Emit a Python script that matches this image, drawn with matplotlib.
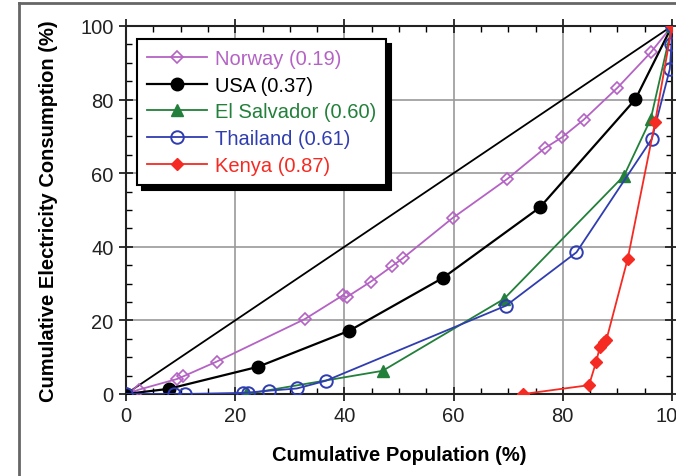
import matplotlib
matplotlib.use("Agg")
import matplotlib.pyplot as plt
from matplotlib.ticker import MultipleLocator
from matplotlib.lines import Line2D

plt.rcParams['font.family'] = ['Liberation Sans', 'DejaVu Sans']

# Data
norway_x = [0, 2.4, 9.4, 10.5, 16.6, 32.8, 39.7, 40.4, 44.8, 48.7, 50.7, 59.8, 69.8, 76.7, 79.9, 83.8, 90.0, 96.1, 100]
norway_y = [0, 1.2, 4.1, 4.8, 8.8, 20.4, 26.8, 26.3, 30.5, 34.7, 36.9, 47.8, 58.4, 66.8, 69.8, 74.5, 83.2, 92.8, 100]

usa_x = [0, 7.8, 24.2, 40.9, 58.1, 75.8, 93.3, 100]
usa_y = [0, 1.4, 7.4, 17.2, 31.6, 50.7, 80.1, 100]

els_x = [22.0, 47.0, 69.2, 91.2, 96.1, 100]
els_y = [0.0, 6.3, 25.8, 59.3, 74.7, 100]

thai_x = [0, 8.7, 10.8, 21.5, 22.4, 26.2, 31.3, 36.6, 69.6, 82.5, 96.3, 99.6, 99.9, 100]
thai_y = [0, 0, 0, 0.3, 0.4, 0.9, 1.5, 3.6, 24.0, 38.5, 69.3, 88.3, 95.0, 100]

kenya_x = [72.8, 84.8, 86.1, 86.8, 87.5, 88.0, 91.9, 96.9, 100]
kenya_y = [0.0, 2.4, 8.7, 12.8, 14.2, 14.8, 36.8, 73.8, 100]

labels = ["Norway (0.19)", "USA (0.37)", "El Salvador (0.60)", "Thailand (0.61)", "Kenya (0.87)"]
colors = ["#B463C4", "#000000", "#22803A", "#2F3DB0", "#F52A22"]

FS = 14.5

fig = plt.figure(figsize=(6.76, 4.77), dpi=100)
# gray frame lines on left and top
fig.add_artist(Line2D([18.5/676, 18.5/676], [0, 1 - 4/477], color="#666666", lw=2, transform=fig.transFigure))
fig.add_artist(Line2D([18.5/676, 1], [1 - 4/477, 1 - 4/477], color="#666666", lw=2, transform=fig.transFigure))

ax = fig.add_axes([126/676, 1 - 395/477, 546/676, 368/477])

ax.plot([0, 100], [0, 100], color="black", lw=1.3, zorder=2)

ax.plot(norway_x, norway_y, color=colors[0], lw=1.3, marker="D", ms=6, mfc="none", mec=colors[0], mew=1.2, label=labels[0], zorder=3)
ax.plot(usa_x, usa_y, color=colors[1], lw=1.6, marker="o", ms=9, mfc=colors[1], mec=colors[1], label=labels[1], zorder=3)
ax.plot(els_x, els_y, color=colors[2], lw=1.3, marker="^", ms=8.5, mfc=colors[2], mec=colors[2], label=labels[2], zorder=3)
ax.plot(thai_x, thai_y, color=colors[3], lw=1.3, marker="o", ms=9, mfc="none", mec=colors[3], mew=1.4, label=labels[3], zorder=3)
ax.plot(kenya_x, kenya_y, color=colors[4], lw=1.3, marker="D", ms=6.5, mfc=colors[4], mec=colors[4], label=labels[4], zorder=4)

ax.set_xlim(0, 100)
ax.set_ylim(0, 100)
ax.xaxis.set_major_locator(MultipleLocator(20))
ax.yaxis.set_major_locator(MultipleLocator(20))
ax.xaxis.set_minor_locator(MultipleLocator(5))
ax.yaxis.set_minor_locator(MultipleLocator(5))
ax.tick_params(which="major", direction="inout", length=10, width=1.3, top=True, right=True,
               labelsize=FS, pad=4, colors="#222222")
ax.tick_params(which="minor", direction="in", length=4, width=1.0, top=True, right=True)
ax.grid(True, which="major", color="#999999", lw=1.2, zorder=0)
ax.set_axisbelow(True)
for s in ax.spines.values():
    s.set_linewidth(1.5)
    s.set_color("#222222")

ax.set_xlabel("Cumulative Population (%)", fontsize=FS, fontweight="bold", labelpad=14)
ax.set_ylabel("Cumulative Electricity Consumption (%)", fontsize=FS, fontweight="bold", labelpad=16)

leg = ax.legend(loc="upper left", bbox_to_anchor=(11/546, 355/368), borderaxespad=0,
                fontsize=FS, handlelength=3.0, labelspacing=0.38, handletextpad=0.35,
                borderpad=0.5, fancybox=False, framealpha=1, edgecolor="black",
                shadow={"color": "black", "alpha": 1.0, "ox": 3.5, "oy": -3.5})
leg.get_frame().set_linewidth(1.5)
for t, c in zip(leg.get_texts(), colors):
    t.set_color(c)

fig.savefig("out.png", dpi=100)
